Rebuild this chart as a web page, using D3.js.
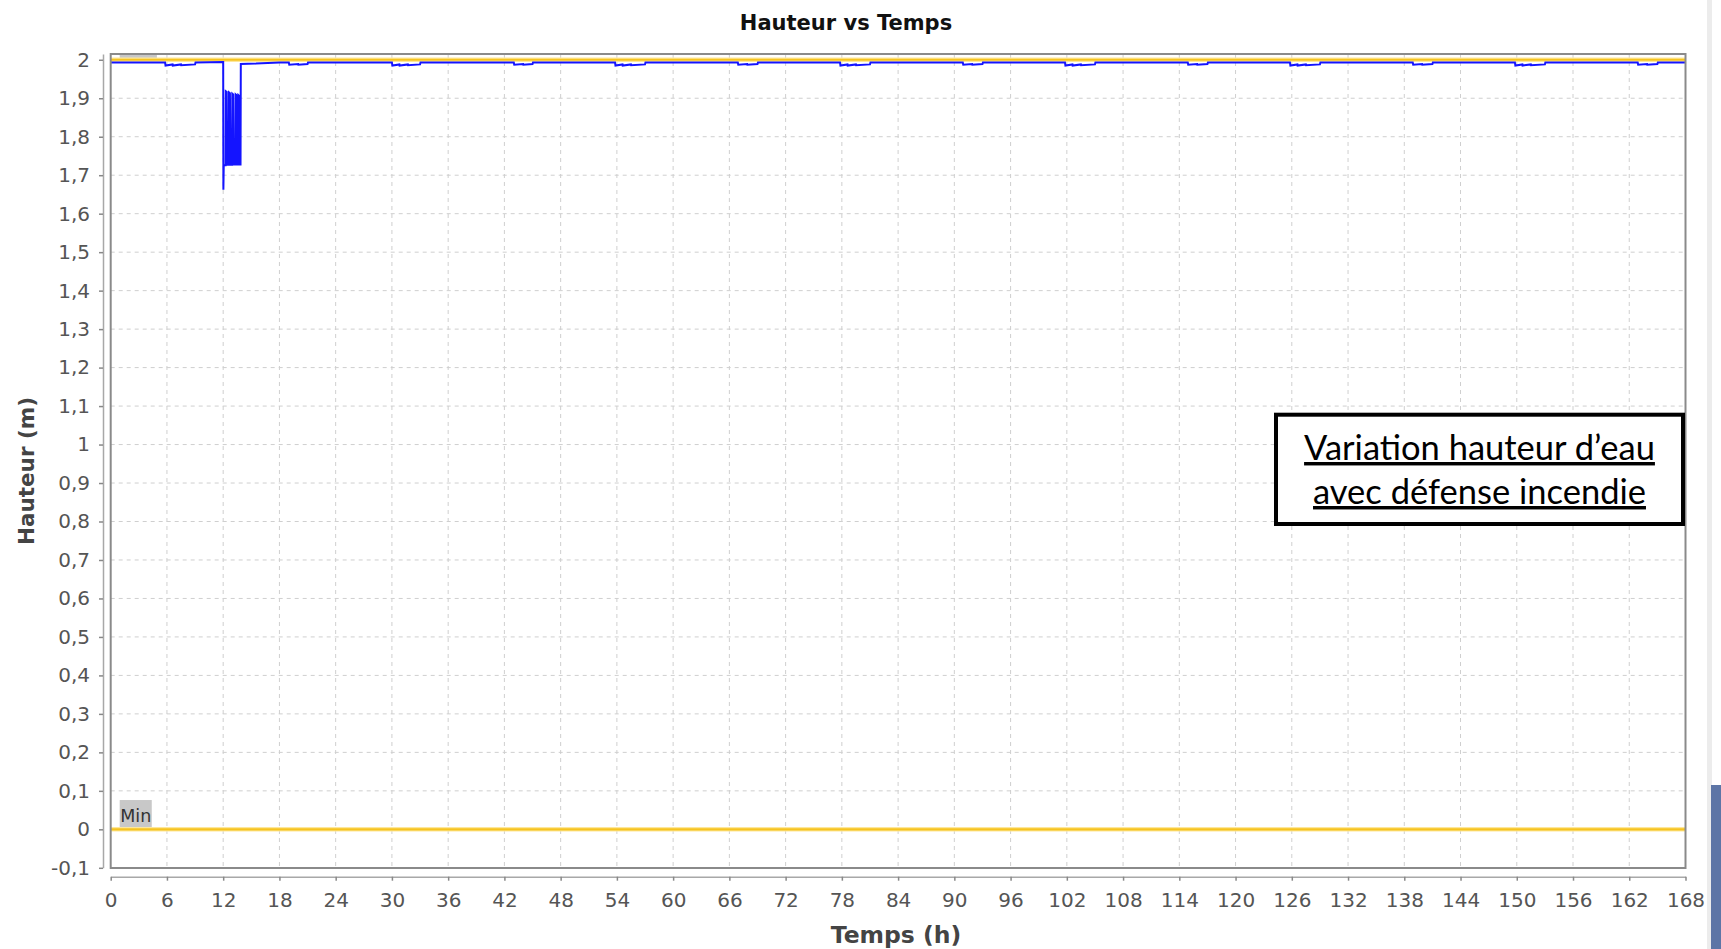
<!DOCTYPE html>
<html>
<head>
<meta charset="utf-8">
<script src="https://cdn.jsdelivr.net/npm/d3@7"></script>
<style>
  html, body { margin: 0; padding: 0; background: #ffffff; }
  svg { display: block; }
</style>
</head>
<body>
<svg id="chart" width="1721" height="949"></svg>
<script>
// ---------- Data ----------
const chartTitle = "Hauteur vs Temps";
const xAxisTitle = "Temps (h)";
const yAxisTitle = "Hauteur (m)";
const xTicks = [0, 6, 12, 18, 24, 30, 36, 42, 48, 54, 60, 66, 72, 78, 84, 90, 96, 102, 108, 114, 120, 126, 132, 138, 144, 150, 156, 162, 168];
const yTicks = [-0.1, 0, 0.1, 0.2, 0.3, 0.4, 0.5, 0.6, 0.7, 0.8, 0.9, 1, 1.1, 1.2, 1.3, 1.4, 1.5, 1.6, 1.7, 1.8, 1.9, 2];
const niveauMax = 2.0;
const niveauMin = 0.0;
const annotationLines = ["Variation hauteur d\u2019eau", "avec d\u00e9fense incendie"];
// Water height series [time (h), height (m)]
const hauteurSerie = [
  [0, 1.993], [5.8, 1.993], [5.85, 1.985], [6.6, 1.988], [6.62, 1.985], [7.5, 1.988], [7.52, 1.986], [9.0, 1.988], [9.05, 1.993],
  [12.0, 1.994], [12.02, 1.662], [12.06, 1.726], [12.26, 1.726], [12.28, 1.918], [12.38, 1.916],
  [12.42, 1.727], [12.60, 1.727], [12.62, 1.915], [12.72, 1.913], [12.77, 1.727], [12.95, 1.727],
  [12.97, 1.912], [13.07, 1.910], [13.12, 1.728], [13.31, 1.728], [13.33, 1.910], [13.43, 1.908],
  [13.47, 1.728], [13.60, 1.728], [13.62, 1.908], [13.70, 1.906], [13.74, 1.728], [13.85, 1.728],
  [13.88, 1.989], [15.5, 1.990], [18.0, 1.993],
  [19.0, 1.993], [19.05, 1.987], [20.0, 1.989], [20.02, 1.987], [21.0, 1.989], [21.05, 1.993],
  [30.0, 1.993], [30.05, 1.985], [30.8, 1.988], [30.82, 1.985], [31.7, 1.988], [31.72, 1.986], [33.0, 1.988], [33.05, 1.993],
  [43.0, 1.993], [43.05, 1.987], [44.0, 1.989], [44.02, 1.987], [45.0, 1.989], [45.05, 1.993],
  [53.8, 1.993], [53.85, 1.985], [54.6, 1.988], [54.62, 1.985], [55.5, 1.988], [55.52, 1.986], [57.0, 1.988], [57.05, 1.993],
  [66.9, 1.993], [66.95, 1.987], [67.9, 1.989], [67.92, 1.987], [69.0, 1.989], [69.05, 1.993],
  [77.8, 1.993], [77.85, 1.985], [78.6, 1.988], [78.62, 1.985], [79.5, 1.988], [79.52, 1.986], [81.0, 1.988], [81.05, 1.993],
  [90.9, 1.993], [90.95, 1.987], [91.9, 1.989], [91.92, 1.987], [93.0, 1.989], [93.05, 1.993],
  [101.8, 1.993], [101.85, 1.985], [102.6, 1.988], [102.62, 1.985], [103.5, 1.988], [103.52, 1.986], [105.0, 1.988], [105.05, 1.993],
  [114.9, 1.993], [114.95, 1.987], [115.9, 1.989], [115.92, 1.987], [117.0, 1.989], [117.05, 1.993],
  [125.8, 1.993], [125.85, 1.985], [126.6, 1.988], [126.62, 1.985], [127.5, 1.988], [127.52, 1.986], [129.0, 1.988], [129.05, 1.993],
  [138.9, 1.993], [138.95, 1.987], [139.9, 1.989], [139.92, 1.987], [141.0, 1.989], [141.05, 1.993],
  [149.8, 1.993], [149.85, 1.985], [150.6, 1.988], [150.62, 1.985], [151.5, 1.988], [151.52, 1.986], [153.0, 1.988], [153.05, 1.993],
  [162.9, 1.993], [162.95, 1.987], [163.9, 1.989], [163.92, 1.987], [165.0, 1.989], [165.05, 1.993],
  [168, 1.993]
];

// ---------- Layout ----------
const plot = { left: 110.7, right: 1685.5, top: 54, bottom: 868 };
const svg = d3.select("#chart");

const x = d3.scaleLinear().domain([0, 168]).range([plot.left, plot.right]);
const y = d3.scaleLinear().domain([-0.1, 2.015]).range([867.8, 54]);

const fmtY = d => Number.isInteger(d) ? String(d) : d.toFixed(1).replace(".", ",");

// right-side window decorations
svg.append("rect").attr("x", 1707).attr("y", 0).attr("width", 5).attr("height", 949).attr("fill", "#ececec");
svg.append("rect").attr("x", 1711).attr("y", 785).attr("width", 10).attr("height", 164).attr("fill", "#5d75a6");

// Title
svg.append("text")
  .attr("x", 846).attr("y", 30)
  .attr("text-anchor", "middle")
  .style("font-family", "DejaVu Sans")
  .style("font-weight", "bold")
  .style("font-size", "21px")
  .attr("fill", "#111")
  .text(chartTitle);

// Plot background
svg.append("rect")
  .attr("x", plot.left).attr("y", plot.top)
  .attr("width", plot.right - plot.left).attr("height", plot.bottom - plot.top)
  .attr("fill", "#ffffff");

// Gridlines
const grid = svg.append("g");
grid.selectAll("line.v").data(xTicks.slice(1, -1)).join("line")
  .attr("x1", d => x(d)).attr("x2", d => x(d))
  .attr("y1", plot.top).attr("y2", plot.bottom)
  .attr("stroke", "#cfcfcf").attr("stroke-width", 1).attr("stroke-dasharray", "4,4");
grid.selectAll("line.h").data(yTicks.slice(1)).join("line")
  .attr("x1", plot.left).attr("x2", plot.right)
  .attr("y1", d => y(d)).attr("y2", d => y(d))
  .attr("stroke", "#cfcfcf").attr("stroke-width", 1).attr("stroke-dasharray", "4,4");

// Clip
svg.append("clipPath").attr("id", "clip").append("rect")
  .attr("x", plot.left).attr("y", plot.top)
  .attr("width", plot.right - plot.left).attr("height", plot.bottom - plot.top);
const data = svg.append("g").attr("clip-path", "url(#clip)");

// Marker labels (Max / Min)
function markerLabel(value, label) {
  const g = data.append("g");
  const t = g.append("text")
    .attr("x", x(0) + 9.5).attr("y", y(value) - 7.6)
    .style("font-family", "DejaVu Sans").style("font-size", "17.5px")
    .attr("fill", "#333").text(label);
  const w = t.node().getComputedTextLength();
  g.insert("rect", "text")
    .attr("x", x(0) + 9).attr("y", y(value) - 29.3)
    .attr("width", w + 1).attr("height", 29.3)
    .attr("fill", "#c8c8c8");
}
markerLabel(niveauMax, "Max");
markerLabel(niveauMin, "Min");

// Level lines
[niveauMax, niveauMin].forEach(v => {
  data.append("line")
    .attr("x1", x(0)).attr("x2", x(168)).attr("y1", y(v)).attr("y2", y(v))
    .attr("stroke", "#fde79a").attr("stroke-width", 4.5);
  data.append("line")
    .attr("x1", x(0)).attr("x2", x(168)).attr("y1", y(v)).attr("y2", y(v))
    .attr("stroke", "#f6c320").attr("stroke-width", 2.2);
});

// Water height line
data.append("path")
  .datum(hauteurSerie)
  .attr("fill", "none")
  .attr("stroke", "#1414ff")
  .attr("stroke-width", 2)
  .attr("stroke-linejoin", "miter")
  .attr("d", d3.line().x(d => x(d[0])).y(d => y(d[1])));

// Plot border
svg.append("rect")
  .attr("x", plot.left).attr("y", plot.top)
  .attr("width", plot.right - plot.left).attr("height", plot.bottom - plot.top)
  .attr("fill", "none").attr("stroke", "#8a8a8a").attr("stroke-width", 2);

// Axes
const yAxis = svg.append("g")
  .attr("transform", "translate(103,0)")
  .call(d3.axisLeft(y).tickValues(yTicks).tickFormat(fmtY).tickSize(4).tickSizeOuter(0).tickPadding(9));
const xAxis = svg.append("g")
  .attr("transform", "translate(0,876.7)")
  .call(d3.axisBottom(x).tickValues(xTicks).tickFormat(d => String(d)).tickSize(4).tickSizeOuter(0).tickPadding(12));
[yAxis, xAxis].forEach(a => {
  a.select(".domain").attr("stroke", "#a8a8a8").attr("stroke-width", 1.5);
  a.selectAll(".tick line").attr("stroke", "#888").attr("stroke-width", 1.5);
  a.selectAll(".tick text")
    .style("font-family", "DejaVu Sans").style("font-size", "20px").attr("fill", "#555");
});

// Axis titles
svg.append("text")
  .attr("x", 896).attr("y", 943)
  .attr("text-anchor", "middle")
  .style("font-family", "DejaVu Sans").style("font-weight", "bold").style("font-size", "23.5px")
  .attr("fill", "#444")
  .text(xAxisTitle);
svg.append("text")
  .attr("transform", "translate(34,471) rotate(-90)")
  .attr("text-anchor", "middle")
  .style("font-family", "DejaVu Sans").style("font-weight", "bold").style("font-size", "21.5px")
  .attr("fill", "#444")
  .text(yAxisTitle);

// Annotation box
const ann = svg.append("g");
ann.append("rect")
  .attr("x", 1276).attr("y", 414.7).attr("width", 407).attr("height", 109.3)
  .attr("fill", "#ffffff").attr("stroke", "#000").attr("stroke-width", 4);
ann.selectAll("text").data(annotationLines).join("text")
  .attr("x", 1479.5).attr("y", (d, i) => i === 0 ? 460 : 504)
  .attr("text-anchor", "middle")
  .style("font-family", "Lato").style("font-size", "34.5px")
  .style("text-decoration", "underline")
  .attr("fill", "#000")
  .text(d => d);
</script>
</body>
</html>
